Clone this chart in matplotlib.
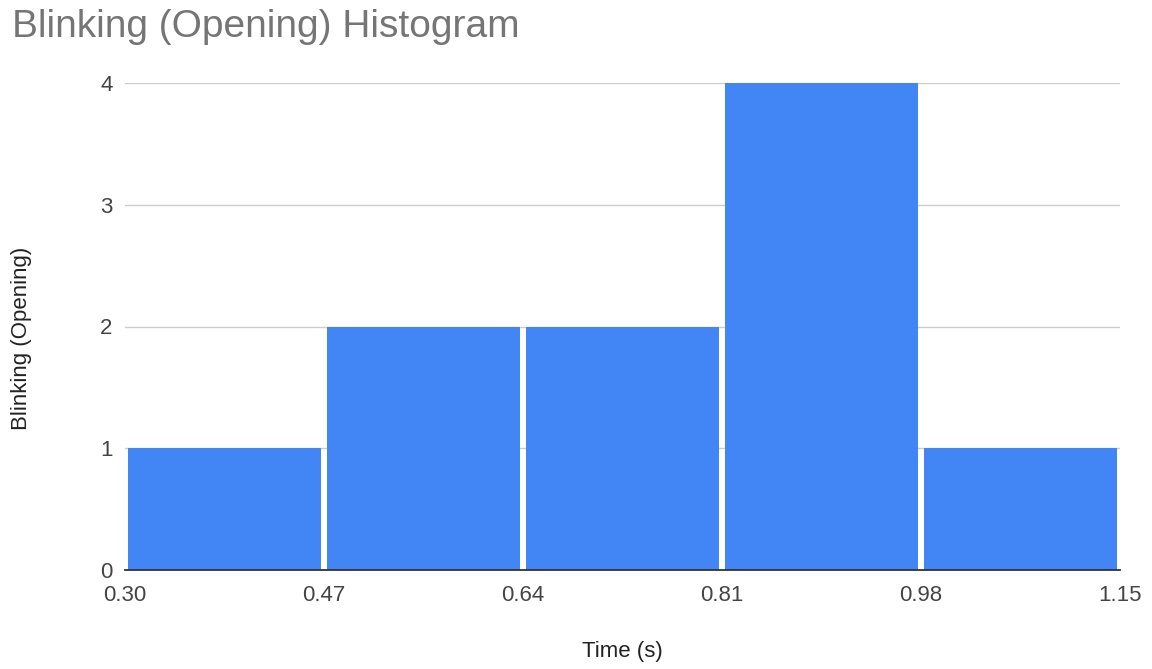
import matplotlib
matplotlib.use("Agg")
import matplotlib.pyplot as plt

plt.rcParams['font.family'] = ['Liberation Sans', 'DejaVu Sans']

# Histogram bins (seconds) and counts per bin
bin_edges = [0.30, 0.47, 0.64, 0.81, 0.98, 1.15]
counts = [1, 2, 2, 4, 1]
y_ticks = [0, 1, 2, 3, 4]

title = "Blinking (Opening) Histogram"
x_label = "Time (s)"
y_label = "Blinking (Opening)"

bar_color = "#4285F4"

fig = plt.figure(figsize=(11.52, 6.69), dpi=100)
ax = fig.add_axes([125 / 1152, 1 - 570 / 669, 995 / 1152, 487 / 669])

# bars with a thin white gap between neighbouring bins
gap_frac = 0.035
lefts = bin_edges[:-1]
widths = [b - a for a, b in zip(bin_edges[:-1], bin_edges[1:])]
ax.bar([l + w * gap_frac / 2 for l, w in zip(lefts, widths)], counts,
       width=[w * (1 - gap_frac) for w in widths], align='edge',
       color=bar_color, linewidth=0, zorder=2)

ax.set_xlim(bin_edges[0], bin_edges[-1])
ax.set_ylim(0, max(y_ticks))
ax.set_xticks(bin_edges)
ax.set_xticklabels([f"{v:.2f}" for v in bin_edges])
ax.set_yticks(y_ticks)
ax.set_yticklabels([str(v) for v in y_ticks])

ax.grid(axis='y', color='#cccccc', linewidth=1.0, zorder=0)
ax.set_axisbelow(True)
for side in ('top', 'right', 'left'):
    ax.spines[side].set_visible(False)
ax.spines['bottom'].set_color('#333333')
ax.spines['bottom'].set_linewidth(1.3)
ax.spines['bottom'].set_zorder(3)

ax.tick_params(axis='both', length=0, labelsize=16, labelcolor='#444444')
ax.tick_params(axis='x', pad=11)
ax.tick_params(axis='y', pad=9)

fig.text(12 / 1152, 1 - 27 / 669, title, fontsize=28, color='#757575',
         ha='left', va='center')
fig.text(622 / 1152, 1 - 652 / 669, x_label, fontsize=16, color='#222222',
         ha='center', va='center')
fig.text(22 / 1152, 1 - 338 / 669, y_label, fontsize=16, color='#222222',
         ha='center', va='center', rotation=90)

fig.savefig("out.png", dpi=100, facecolor='white')
